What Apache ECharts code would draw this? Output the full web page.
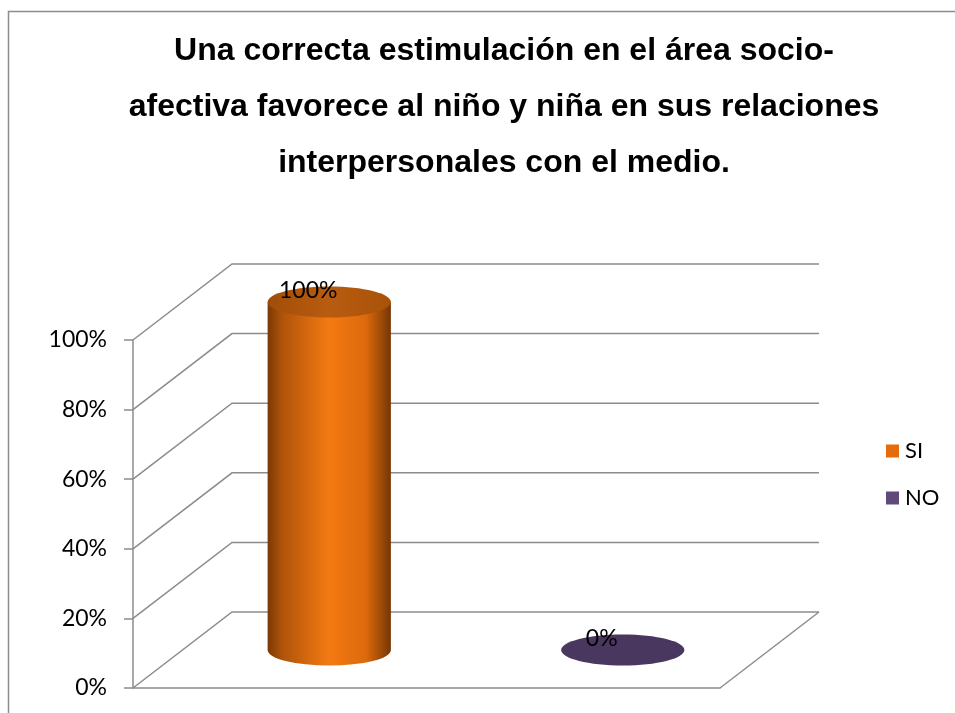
<!DOCTYPE html>
<html>
<head>
<meta charset="utf-8">
<script src="https://cdn.jsdelivr.net/npm/echarts@6/dist/echarts.min.js"></script>
<style>
  html, body { margin: 0; padding: 0; background: #fff; }
  #chart { width: 955px; height: 713px; }
</style>
</head>
<body>
<div id="chart"></div>
<script>
// Survey answers and their share of respondents
const categories = ['SI', 'NO'];
const shares = [1, 0];
const seriesColors = ['#e46c0a', '#604a7b'];
const yTicks = [0, 0.2, 0.4, 0.6, 0.8, 1];
const titleLines = [
  'Una correcta estimulación en el área socio-',
  'afectiva favorece al niño y niña en sus relaciones',
  'interpersonales con el medio.'
];

// perspective depth of the 3D box (pixels)
const DX = 99, DY = -76;
const RY = 15.5;
const gridColor = '#8c8c8c';

const chart = echarts.init(document.getElementById('chart'));

function fmtPct(v) { return Math.round(v * 100) + '%'; }

// back wall + side wall lines for every y tick
function renderWalls(params, api) {
  const cs = params.coordSys;
  const v = api.value(1);
  const y = api.coord([0, v])[1];
  const children = [{
    type: 'polyline',
    shape: { points: [[cs.x, y], [cs.x + DX, y + DY], [cs.x + cs.width + DX, y + DY]] },
    style: { stroke: gridColor, lineWidth: 1.5, fill: null }
  }];
  if (v === 0) {
    children.push({
      type: 'line',
      shape: { x1: cs.x + cs.width, y1: y, x2: cs.x + cs.width + DX, y2: y + DY },
      style: { stroke: gridColor, lineWidth: 1.5 }
    });
  }
  return { type: 'group', children };
}

function makeCylinder(bodyStops, topStops, baseColor) {
  return function (params, api) {
    const cat = api.value(0);
    const v = api.value(1);
    const top = api.coord([cat, v]);
    const base = api.coord([cat, 0]);
    const band = api.size([1, 0])[0];
    const rx = band * 0.42 / 2;
    const cx = top[0] + DX / 2;
    const ty = top[1] + DY / 2;
    const by = base[1] + DY / 2;
    const children = [];
    if (by - ty > 0.5) {
      children.push({
        type: 'path',
        shape: {
          pathData: 'M' + (cx - rx) + ',' + ty + ' L' + (cx - rx) + ',' + by +
            ' A' + rx + ',' + RY + ' 0 0 0 ' + (cx + rx) + ',' + by +
            ' L' + (cx + rx) + ',' + ty + ' Z'
        },
        style: {
          fill: new echarts.graphic.LinearGradient(0, 0, 1, 0, bodyStops)
        }
      });
      children.push({
        type: 'ellipse',
        shape: { cx: cx, cy: ty, rx: rx, ry: RY },
        style: { fill: new echarts.graphic.LinearGradient(0, 0, 1, 0, topStops) }
      });
    } else {
      children.push({
        type: 'ellipse',
        shape: { cx: cx, cy: by, rx: rx, ry: RY },
        style: { fill: baseColor }
      });
    }
    children.push({
      type: 'text',
      x: cx - 21,
      y: ty - 11,
      style: {
        text: fmtPct(v),
        fill: '#000',
        font: '23px Lato',
        align: 'center',
        verticalAlign: 'middle'
      }
    });
    return { type: 'group', children };
  };
}

const siStops = [
  { offset: 0, color: '#7a3905' },
  { offset: 0.12, color: '#b0530a' },
  { offset: 0.5, color: '#f47a12' },
  { offset: 0.8, color: '#dc690c' },
  { offset: 1, color: '#763604' }
];
const siTopStops = [
  { offset: 0, color: '#a14d08' },
  { offset: 0.5, color: '#b85c10' },
  { offset: 1, color: '#a85209' }
];

const option = {
  animation: false,
  backgroundColor: '#fff',
  title: {
    text: titleLines.join('\n'),
    left: 499,
    top: 18,
    textAlign: 'center',
    textStyle: {
      fontFamily: 'Liberation Sans',
      fontWeight: 'bold',
      fontSize: 32,
      lineHeight: 56,
      color: '#000'
    }
  },
  legend: {
    data: categories,
    orient: 'vertical',
    left: 886,
    top: 440,
    padding: 0,
    itemWidth: 13,
    itemHeight: 13,
    itemGap: 25,
    icon: 'rect',
    textStyle: { fontFamily: 'Lato', fontSize: 22, color: '#000', padding: [0, 0, 0, 1] }
  },
  grid: { left: 133, top: 340, width: 587, height: 348 },
  xAxis: {
    type: 'category',
    data: categories,
    axisLine: { show: true, lineStyle: { color: gridColor, width: 1.5 } },
    axisTick: { show: false },
    axisLabel: { show: false },
    splitLine: { show: false }
  },
  yAxis: {
    type: 'value',
    min: 0,
    max: 1,
    interval: 0.2,
    axisLine: { show: true, lineStyle: { color: gridColor, width: 1.5 } },
    axisTick: { show: true, length: 9, lineStyle: { color: gridColor, width: 1.5 } },
    axisLabel: {
      formatter: fmtPct,
      margin: 26,
      fontFamily: 'Lato',
      fontSize: 23,
      color: '#000'
    },
    splitLine: { show: false }
  },
  graphic: [{
    type: 'rect',
    shape: { x: 8.5, y: 11.5, width: 1200, height: 1200 },
    style: { fill: null, stroke: gridColor, lineWidth: 1.5 },
    silent: true,
    z: -10
  }],
  series: [
    {
      name: 'walls',
      type: 'custom',
      renderItem: renderWalls,
      data: yTicks.map(v => [0, v]),
      encode: { x: 0, y: 1 },
      z: 1,
      silent: true,
      clip: false
    },
    {
      name: 'SI',
      type: 'custom',
      renderItem: makeCylinder(siStops, siTopStops, seriesColors[0]),
      itemStyle: { color: seriesColors[0] },
      data: [[0, shares[0]]],
      encode: { x: 0, y: 1 },
      z: 5,
      clip: false
    },
    {
      name: 'NO',
      type: 'custom',
      renderItem: makeCylinder(siStops, siTopStops, '#4a3760'),
      itemStyle: { color: seriesColors[1] },
      data: [[1, shares[1]]],
      encode: { x: 0, y: 1 },
      z: 5,
      clip: false
    }
  ]
};

chart.setOption(option);
</script>
</body>
</html>
